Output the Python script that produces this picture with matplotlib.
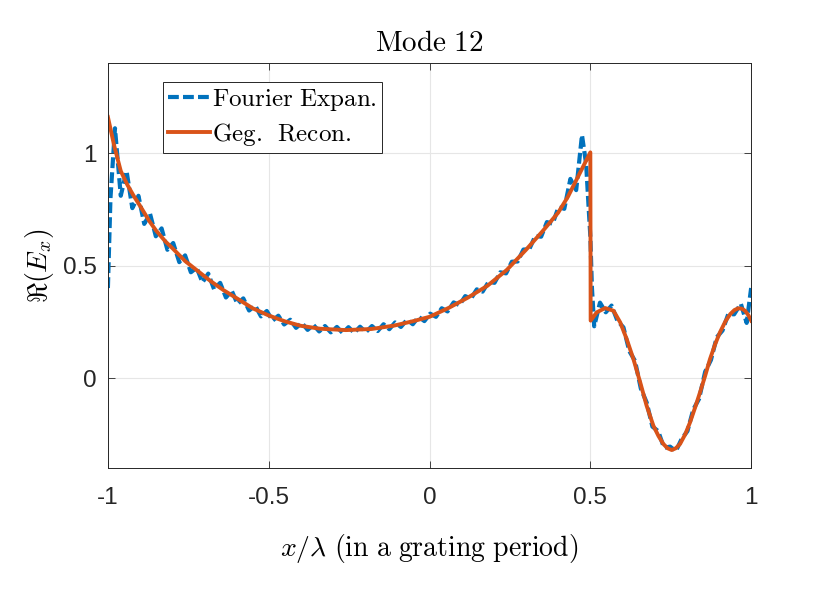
import numpy as np
import matplotlib
matplotlib.use("Agg")
import matplotlib.pyplot as plt

plt.rcParams['mathtext.fontset'] = 'cm'
plt.rcParams['font.family'] = ['Liberation Sans', 'DejaVu Sans']
plt.rcParams['axes.unicode_minus'] = False

# Gegenbauer reconstruction
geg_x = [-1.0, -0.98, -0.96, -0.94, -0.92, -0.90, -0.87, -0.85, -0.82, -0.80,
         -0.76, -0.72, -0.68, -0.64, -0.60, -0.55, -0.50, -0.45, -0.40, -0.34,
         -0.26, -0.18, -0.11, -0.05, 0.0, 0.06, 0.12, 0.18, 0.24, 0.30,
         0.35, 0.40, 0.43, 0.46, 0.50, 0.501, 0.52, 0.546, 0.572, 0.593,
         0.613, 0.634, 0.655, 0.675, 0.696, 0.712, 0.727, 0.740, 0.753, 0.766,
         0.779, 0.795, 0.81, 0.826, 0.841, 0.857, 0.872, 0.888, 0.903, 0.92,
         0.935, 0.948, 0.96, 0.971, 0.981, 0.991, 1.0]
geg_y = [1.16, 1.03, 0.92, 0.86, 0.81, 0.765, 0.695, 0.655, 0.605, 0.578,
         0.52, 0.475, 0.43, 0.39, 0.355, 0.31, 0.278, 0.252, 0.232, 0.219,
         0.213, 0.218, 0.233, 0.253, 0.272, 0.312, 0.358, 0.41, 0.48, 0.57,
         0.65, 0.735, 0.805, 0.89, 1.003, 0.255, 0.292, 0.311, 0.299, 0.247,
         0.173, 0.084, -0.019, -0.123, -0.212, -0.258, -0.293, -0.312, -0.32, -0.312,
         -0.293, -0.25, -0.197, -0.13, -0.064, 0.01, 0.084, 0.15, 0.203, 0.252,
         0.284, 0.302, 0.31, 0.308, 0.299, 0.28, 0.255]

# Fourier expansion, ripple peaks and troughs
four_x = [-1.0, -0.992, -0.978, -0.960, -0.942, -0.924, -0.905, -0.887, -0.869, -0.851,
          -0.833, -0.815, -0.797, -0.778, -0.760, -0.742, -0.724, -0.706, -0.688, -0.670,
          -0.651, -0.633, -0.615, -0.597, -0.579, -0.561, -0.542, -0.524, -0.506, -0.488,
          -0.470, -0.452, -0.433, -0.415, -0.397, -0.379, -0.361, -0.343, -0.325, -0.307,
          -0.288, -0.270, -0.252, -0.234, -0.216, -0.198, -0.179, -0.161, -0.143, -0.125,
          -0.107, -0.089, -0.070, -0.052, -0.034, -0.016, 0.002, 0.020, 0.038, 0.056,
          0.075, 0.093, 0.111, 0.129, 0.147, 0.165, 0.184, 0.202, 0.220, 0.238,
          0.256, 0.274, 0.292, 0.310, 0.329, 0.347, 0.365, 0.383, 0.401, 0.419,
          0.438, 0.456, 0.474, 0.487, 0.495, 0.500, 0.505, 0.512, 0.530, 0.548,
          0.566, 0.584, 0.603, 0.621, 0.639, 0.657, 0.675, 0.693, 0.711, 0.729,
          0.748, 0.766, 0.784, 0.802, 0.820, 0.838, 0.857, 0.875, 0.893, 0.911,
          0.929, 0.947, 0.968, 0.986, 1.0]
four_y = [0.40, 0.80, 1.11, 0.81, 0.92, 0.755, 0.81, 0.685, 0.73, 0.63,
          0.665, 0.57, 0.60, 0.515, 0.545, 0.47, 0.49, 0.425, 0.464, 0.395,
          0.423, 0.358, 0.388, 0.329, 0.354, 0.30, 0.322, 0.274, 0.298, 0.255,
          0.277, 0.238, 0.259, 0.223, 0.245, 0.214, 0.236, 0.207, 0.231, 0.203,
          0.227, 0.200, 0.226, 0.201, 0.228, 0.204, 0.231, 0.209, 0.239, 0.217,
          0.247, 0.227, 0.259, 0.239, 0.272, 0.253, 0.286, 0.272, 0.310, 0.296,
          0.336, 0.324, 0.364, 0.353, 0.394, 0.384, 0.428, 0.423, 0.470, 0.465,
          0.517, 0.518, 0.571, 0.572, 0.632, 0.628, 0.693, 0.686, 0.760, 0.752,
          0.885, 0.835, 1.08, 0.95, 0.75, 0.63, 0.40, 0.23, 0.335, 0.292,
          0.322, 0.255, 0.225, 0.12, 0.076, -0.047, -0.108, -0.216, -0.236, -0.31,
          -0.305, -0.325, -0.27, -0.236, -0.14, -0.093, 0.028, 0.08, 0.181, 0.211,
          0.285, 0.283, 0.33, 0.245, 0.40]

blue = '#0072BD'
orange = '#D95319'

fig = plt.figure(figsize=(8.3, 5.89), dpi=100)
ax = fig.add_axes([0.130, 0.2054, 0.775, 0.6876])

ax.plot(four_x, four_y, '--', color=blue, lw=3.0, dashes=(2.6, 1.0),
        label=r'$\mathrm{Fourier\ Expan.}$')
ax.plot(geg_x, geg_y, '-', color=orange, lw=2.8,
        label=r'$\mathrm{Geg.\ \,Recon.}$')

ax.set_xlim(-1, 1)
ax.set_ylim(-0.4, 1.4)
ax.set_xticks([-1, -0.5, 0, 0.5, 1])
ax.set_xticklabels(['-1', '-0.5', '0', '0.5', '1'])
ax.set_yticks([0, 0.5, 1])
ax.set_yticklabels(['0', '0.5', '1'])
ax.tick_params(direction='in', length=5, width=0.6, labelsize=17.5,
               top=True, right=True, colors='0.15')
ax.tick_params(axis='x', pad=14)
ax.tick_params(axis='y', pad=8)
ax.grid(True, color='0.9', lw=0.8)
ax.set_axisbelow(True)
for s in ax.spines.values():
    s.set_color('0.15')
    s.set_linewidth(0.7)

ax.set_title(r'$\mathrm{Mode\ 12}$', fontsize=21, pad=9)
ax.set_xlabel(r'$x/\lambda\ \mathrm{(in\ a\ grating\ period)}$', fontsize=20, labelpad=16)
ax.set_ylabel(r'$\Re(E_x)$', fontsize=20, labelpad=5)

leg = ax.legend(loc='upper left', bbox_to_anchor=(0.0855, 0.953), fontsize=18,
                fancybox=False, edgecolor='0.15', framealpha=1, handlelength=1.7,
                handletextpad=0.08, borderpad=0.2, labelspacing=0.3, borderaxespad=0)
leg.get_frame().set_linewidth(0.7)

fig.savefig('out.png', dpi=100)
